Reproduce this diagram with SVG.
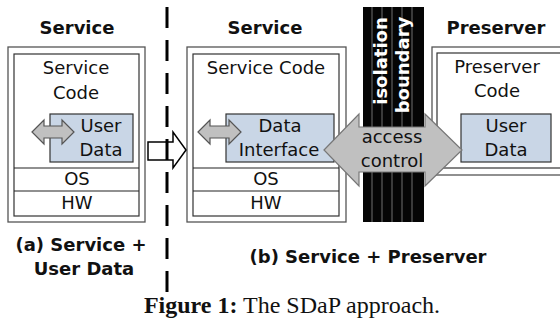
<svg xmlns="http://www.w3.org/2000/svg" width="560" height="322" viewBox="0 0 560 322">
<style>
text{font-family:"DejaVu Sans",Verdana,sans-serif;fill:#111;}
.t{font-size:18px;text-anchor:middle;}
.b{font-size:18px;font-weight:bold;text-anchor:middle;}
.outer{fill:#fff;stroke:#555;stroke-width:1.3;}
.inner{fill:#fff;stroke:#333;stroke-width:1.2;}
.row{stroke:#222;stroke-width:1.2;}
.blue{fill:#c9d6e6;stroke:#333;stroke-width:1.2;}
.garrow{fill:#c0c0c0;stroke:#555;stroke-width:1.2;}
.wt{fill:#fff;font-size:18px;font-weight:bold;text-anchor:middle;}
.stripe{stroke:#3a3a3a;stroke-width:2;}
</style>
<rect width="560" height="322" fill="#fff"/>

<g id="serviceA">
  <text class="b" x="77" y="34">Service</text>
  <rect class="outer" x="8" y="47" width="137" height="175"/>
  <rect class="inner" x="14" y="54" width="125" height="162"/>
  <line class="row" x1="14" y1="168" x2="139" y2="168"/>
  <line class="row" x1="14" y1="191" x2="139" y2="191"/>
  <text class="t" x="76" y="74">Service</text>
  <text class="t" x="76" y="99">Code</text>
  <text class="t" x="77" y="185">OS</text>
  <text class="t" x="77" y="209">HW</text>
</g>
<g id="userDataA">
  <rect class="blue" x="50" y="114" width="83" height="48"/>
  <text class="t" x="101" y="132">User</text>
  <text class="t" x="101" y="156">Data</text>
</g>

<g id="serviceB">
  <text class="b" x="265" y="34">Service</text>
  <rect class="outer" x="187" y="47" width="159" height="175"/>
  <rect class="inner" x="193" y="54" width="146" height="162"/>
  <line class="row" x1="193" y1="168" x2="339" y2="168"/>
  <line class="row" x1="193" y1="191" x2="339" y2="191"/>
  <text class="t" x="266" y="74">Service Code</text>
  <text class="t" x="266" y="185">OS</text>
  <text class="t" x="266" y="209">HW</text>
</g>
<g id="dataInterface">
  <rect class="blue" x="226" y="114" width="108" height="48"/>
  <text class="t" x="280" y="132">Data</text>
  <text class="t" x="279" y="156">Interface</text>
</g>

<g id="isolationBoundary">
  <rect x="363" y="7" width="61" height="215" fill="#050505"/>
  <line class="stripe" x1="372" y1="7" x2="372" y2="222"/>
  <line class="stripe" x1="382" y1="7" x2="382" y2="222"/>
  <line class="stripe" x1="392" y1="7" x2="392" y2="222"/>
  <line class="stripe" x1="402" y1="7" x2="402" y2="222"/>
  <line class="stripe" x1="412" y1="7" x2="412" y2="222"/>
  <text class="wt" transform="translate(387,61) rotate(-90)">isolation</text>
  <text class="wt" transform="translate(409,65) rotate(-90)">boundary</text>
</g>

<g id="preserver">
  <text class="b" x="496" y="34">Preserver</text>
  <rect class="outer" x="432" y="47" width="140" height="128"/>
  <rect class="inner" x="437" y="53" width="135" height="115"/>
  <text class="t" x="497" y="73">Preserver</text>
  <text class="t" x="497" y="97">Code</text>
</g>
<g id="userDataP">
  <rect class="blue" x="461" y="114" width="90" height="48"/>
  <text class="t" x="506" y="132">User</text>
  <text class="t" x="506" y="156">Data</text>
</g>

<g id="connectors">
  <polygon class="garrow" points="32,132 44,120 44,126 62,126 62,120 74,132 62,144 62,138 44,138 44,144"/>
  <polygon class="garrow" points="198,132 210,120 210,126 229,126 229,120 241,132 229,144 229,138 210,138 210,144"/>
  <polygon fill="#fff" stroke="#000" stroke-width="1.5" points="148,142 173,142 173,132 186,150 173,168 173,160 148,160"/>
  <line x1="167" y1="7" x2="167" y2="292" stroke="#000" stroke-width="3" stroke-dasharray="21 12"/>
  <polygon fill="#c0c0c0" stroke="#777" stroke-width="1.2" points="324,150 359,114 359,127 425,127 425,114 462,150 425,186 425,172 359,172 359,186"/>
  <text class="t" x="392" y="143">access</text>
  <text class="t" x="392" y="167">control</text>
</g>

<g id="labels">
  <text class="b" x="81" y="251">(a) Service +</text>
  <text class="b" x="84" y="275">User Data</text>
  <text class="b" x="368" y="263">(b) Service + Preserver</text>
  <text x="292" y="313" text-anchor="middle" style="font-family:'Liberation Serif','Times New Roman',serif;font-size:24px;fill:#111"><tspan font-weight="bold">Figure 1:</tspan> The SDaP approach.</text>
</g>
</svg>
